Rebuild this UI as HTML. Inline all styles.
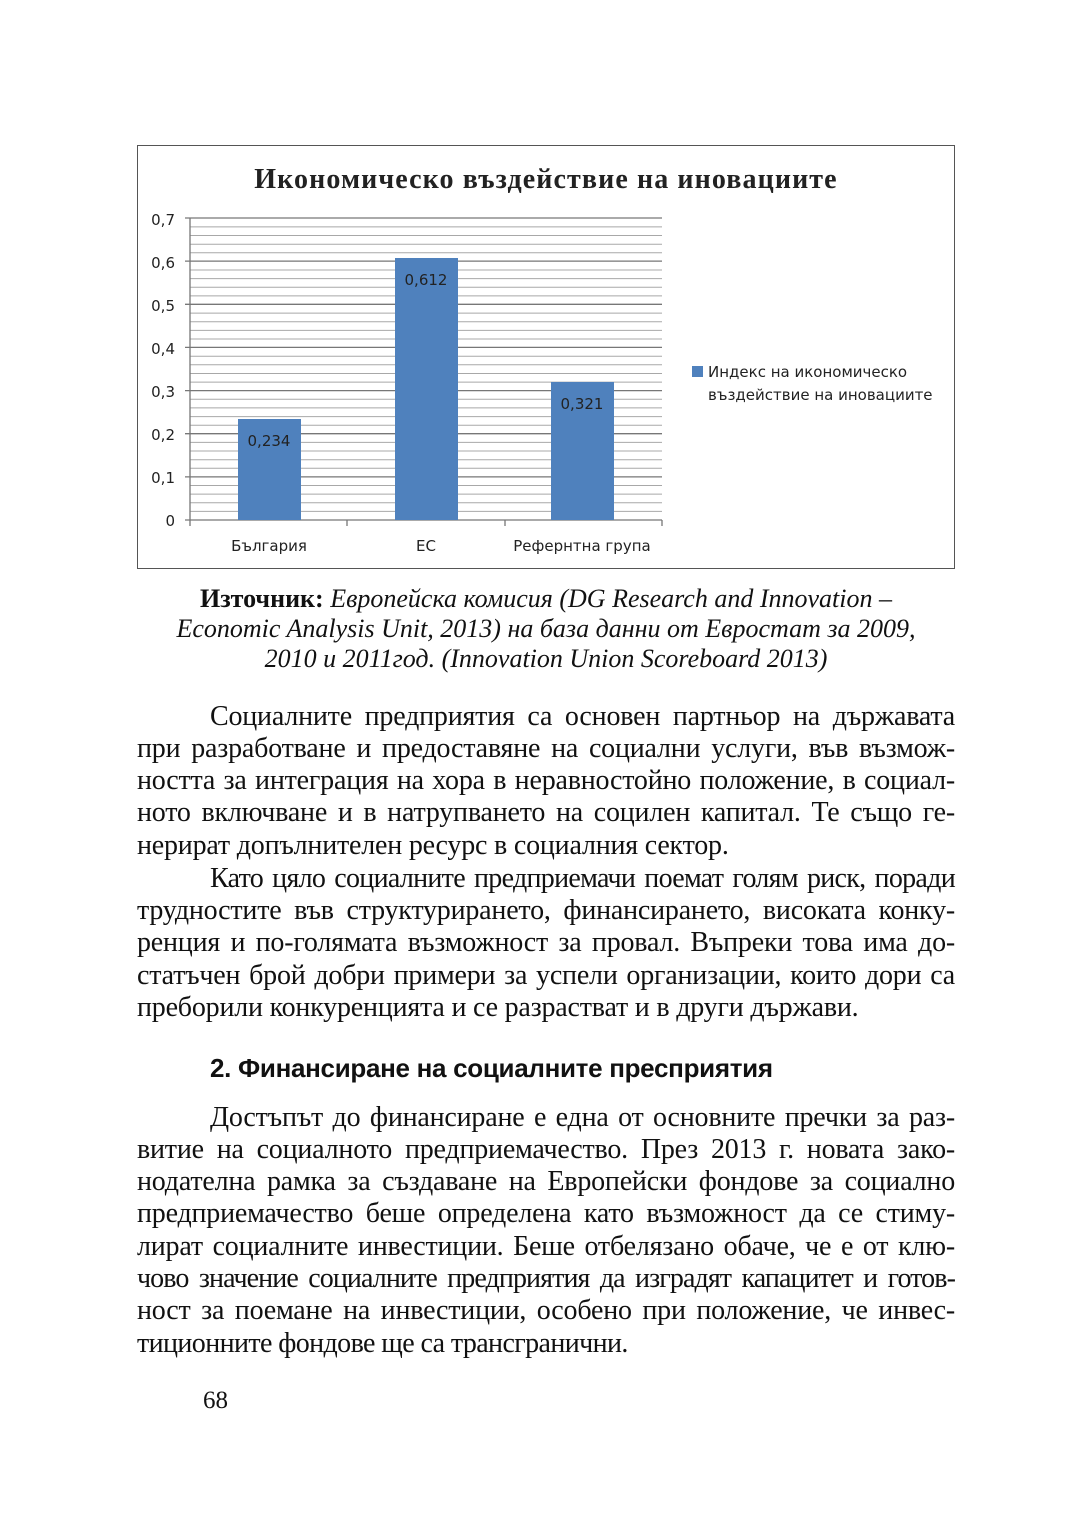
<!DOCTYPE html>
<html><head><meta charset="utf-8"><style>
body{margin:0;background:#fff;width:1080px;height:1530px;position:relative;overflow:hidden;font-family:"Liberation Serif",serif;color:#111}
.l{position:absolute;left:137px;width:818px;font-size:28px;line-height:32px;white-space:nowrap;text-align:justify;text-align-last:justify;letter-spacing:-0.2px}
.e{text-align-last:left}
.c{position:absolute;left:100px;width:892px;text-align:center;font-size:26px;font-style:italic;white-space:nowrap}
</style></head><body>
<svg style="position:absolute;left:0;top:0" width="1080" height="600">
<rect x="137.5" y="145.5" width="817" height="423" fill="#fff" stroke="#555"/>
<text x="546" y="188" text-anchor="middle" font-family="Liberation Serif,serif" font-weight="bold" font-size="28" letter-spacing="1.1" fill="#222">Икономическо въздействие  на иновациите</text>
<g stroke="#a8a8a8" stroke-width="1">
<line x1="190" x2="662" y1="511.4" y2="511.4"/><line x1="190" x2="662" y1="502.8" y2="502.8"/><line x1="190" x2="662" y1="494.1" y2="494.1"/><line x1="190" x2="662" y1="485.5" y2="485.5"/>
<line x1="190" x2="662" y1="468.3" y2="468.3"/><line x1="190" x2="662" y1="459.7" y2="459.7"/><line x1="190" x2="662" y1="451" y2="451"/><line x1="190" x2="662" y1="442.4" y2="442.4"/>
<line x1="190" x2="662" y1="425.2" y2="425.2"/><line x1="190" x2="662" y1="416.6" y2="416.6"/><line x1="190" x2="662" y1="407.9" y2="407.9"/><line x1="190" x2="662" y1="399.3" y2="399.3"/>
<line x1="190" x2="662" y1="382.1" y2="382.1"/><line x1="190" x2="662" y1="373.5" y2="373.5"/><line x1="190" x2="662" y1="364.8" y2="364.8"/><line x1="190" x2="662" y1="356.2" y2="356.2"/>
<line x1="190" x2="662" y1="339" y2="339"/><line x1="190" x2="662" y1="330.4" y2="330.4"/><line x1="190" x2="662" y1="321.7" y2="321.7"/><line x1="190" x2="662" y1="313.1" y2="313.1"/>
<line x1="190" x2="662" y1="295.9" y2="295.9"/><line x1="190" x2="662" y1="287.3" y2="287.3"/><line x1="190" x2="662" y1="278.6" y2="278.6"/><line x1="190" x2="662" y1="270" y2="270"/>
<line x1="190" x2="662" y1="252.8" y2="252.8"/><line x1="190" x2="662" y1="244.2" y2="244.2"/><line x1="190" x2="662" y1="235.5" y2="235.5"/><line x1="190" x2="662" y1="226.9" y2="226.9"/>
</g>
<g stroke="#777" stroke-width="1.3">
<line x1="185" x2="662" y1="218" y2="218"/><line x1="185" x2="662" y1="261.1" y2="261.1"/><line x1="185" x2="662" y1="304.3" y2="304.3"/><line x1="185" x2="662" y1="347.4" y2="347.4"/><line x1="185" x2="662" y1="390.6" y2="390.6"/><line x1="185" x2="662" y1="433.7" y2="433.7"/><line x1="185" x2="662" y1="476.9" y2="476.9"/><line x1="185" x2="662" y1="520" y2="520"/>
<line x1="190" x2="190" y1="218" y2="520"/><line x1="347" x2="347" y1="520" y2="526"/><line x1="505" x2="505" y1="520" y2="526"/><line x1="662" x2="662" y1="520" y2="526"/><line x1="190" x2="190" y1="520" y2="526"/>
</g>
<g fill="#4f81bd"><rect x="238" y="419" width="63" height="101"/><rect x="395" y="258" width="63" height="262"/><rect x="551" y="382" width="63" height="138"/><rect x="692" y="366" width="11" height="11"/></g>
<g font-family="DejaVu Sans,sans-serif" font-size="15" fill="#222">
<g text-anchor="end"><text x="175" y="225">0,7</text><text x="175" y="268">0,6</text><text x="175" y="311">0,5</text><text x="175" y="354">0,4</text><text x="175" y="397">0,3</text><text x="175" y="440">0,2</text><text x="175" y="483">0,1</text><text x="175" y="526">0</text></g>
<g text-anchor="middle"><text x="269" y="446">0,234</text><text x="426" y="285">0,612</text><text x="582" y="409">0,321</text>
<text x="269" y="551">България</text><text x="426" y="551">ЕС</text><text x="582" y="551">Рефернтна група</text></g>
<text x="708" y="377">Индекс  на икономическо</text><text x="708" y="400">въздействие  на иновациите</text>
</g></svg>
<div class="c" style="top:584px"><b style="font-style:normal">Източник:</b> Европейска комисия (DG Research and Innovation –</div>
<div class="c" style="top:614px">Economic Analysis Unit, 2013) на база данни от Евростат за 2009,</div>
<div class="c" style="top:644px">2010 и 2011год. (Innovation Union Scoreboard 2013)</div>
<div class="l" style="top:701px;left:210px;width:745px">Социалните предприятия са основен партньор на държавата</div>
<div class="l" style="top:733px">при разработване и предоставяне на социални услуги, във възмож-</div>
<div class="l" style="top:765px">ността за интеграция на хора в неравностойно положение, в социал-</div>
<div class="l" style="top:797px">ното включване и в натрупването на социлен капитал. Те също ге-</div>
<div class="l e" style="top:830px">нерират допълнителен ресурс в социалния сектор.</div>
<div class="l" style="top:863px;left:210px;width:745px;letter-spacing:-0.7px">Като цяло социалните предприемачи поемат голям риск, поради</div>
<div class="l" style="top:895px">трудностите във структурирането, финансирането, високата конку-</div>
<div class="l" style="top:927px">ренция и по-голямата възможност за провал. Въпреки това има до-</div>
<div class="l" style="top:960px">статъчен брой добри примери за успели организации, които дори са</div>
<div class="l e" style="top:992px">преборили конкуренцията и се разрастват и в други държави.</div>
<div style="position:absolute;top:1053px;left:210px;font-family:'Liberation Sans',sans-serif;font-weight:bold;font-size:26px;letter-spacing:-0.3px">2. Финансиране на социалните пресприятия</div>
<div class="l" style="top:1102px;left:210px;width:745px">Достъпът до финансиране е една от основните пречки за раз-</div>
<div class="l" style="top:1134px">витие на социалното предприемачество. През 2013 г. новата зако-</div>
<div class="l" style="top:1166px">нодателна рамка за създаване на  Европейски фондове за социално</div>
<div class="l" style="top:1198px">предприемачество беше определена като възможност да се стиму-</div>
<div class="l" style="top:1231px">лират социалните инвестиции. Беше отбелязано обаче, че е от клю-</div>
<div class="l" style="top:1263px;letter-spacing:-0.9px">чово значение социалните предприятия да изградят капацитет и готов-</div>
<div class="l" style="top:1295px">ност за поемане на инвестиции, особено при положение, че инвес-</div>
<div class="l e" style="top:1328px;letter-spacing:-0.6px">тиционните фондове ще са трансгранични.</div>
<div style="position:absolute;top:1387px;left:203px;font-size:25px">68</div>
</body></html>
